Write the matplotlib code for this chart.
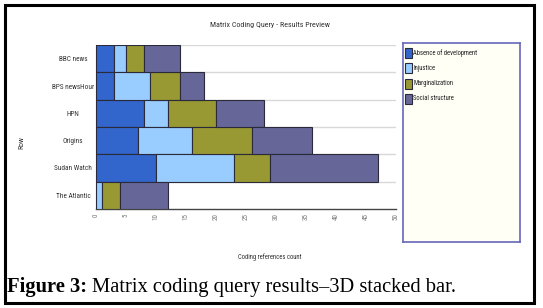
import numpy as np
import matplotlib
matplotlib.use('Agg')
import matplotlib.pyplot as plt
from matplotlib.patches import Rectangle
from matplotlib import font_manager

# Data
rows = ['BBC news', 'BPS newsHour', 'HPN', 'Origins', 'Sudan Watch', 'The Atlantic']
series = ['Absence of development', 'Injustice', 'Marginalization', 'Social structure']
absence = [3, 3, 8, 7, 10, 0]
injustice = [2, 6, 4, 9, 13, 1]
marginalization = [3, 5, 8, 10, 6, 3]
social = [6, 4, 8, 10, 18, 8]
colors = ['#3366CC', '#99CCFF', '#999933', '#666699']
xticks = list(range(0, 55, 5))

W, H = 543, 308

# pick a narrow sans if one is installed
names = {f.name for f in font_manager.fontManager.ttflist}
narrow = 'DejaVu Sans'
for cand in ['Liberation Sans Narrow', 'Roboto Condensed', 'Open Sans Condensed']:
    if cand in names:
        narrow = cand
        break
NF = dict(family=narrow, stretch='condensed')

fig = plt.figure(figsize=(W / 100, H / 100), dpi=100)
fig.patch.set_facecolor('white')


def px_axes(x0, y0, x1, y1):
    # axes from pixel box (top-left origin)
    return fig.add_axes([x0 / W, 1 - y1 / H, (x1 - x0) / W, (y1 - y0) / H])


# outer frame
fig.add_artist(Rectangle((5 / W, 1 - 303 / H), 529 / W, 298 / H, transform=fig.transFigure,
                         fill=False, edgecolor='black', linewidth=2.2))

ax = px_axes(96, 45, 396, 209)
y = np.arange(len(rows))
left = np.zeros(len(rows))
for vals, c in zip([absence, injustice, marginalization, social], colors):
    vals = np.array(vals, dtype=float)
    ax.barh(y, vals, left=left, height=1.0, color=c, edgecolor='#2a2a3a',
            linewidth=0.8, zorder=3)
    left += vals

ax.set_xlim(0, 50)
ax.set_ylim(len(rows) - 0.5, -0.5)
for b in np.arange(-0.5, len(rows) - 0.5, 1):
    ax.axhline(b, color='#d8d8d8', linewidth=1.0, zorder=1)

for s in ['top', 'right']:
    ax.spines[s].set_visible(False)
ax.spines['left'].set_color('#444444')
ax.spines['bottom'].set_color('#444444')
ax.spines['bottom'].set_linewidth(1.0)

ax.set_yticks(y)
ax.set_yticklabels(rows, ha='center', fontsize=5.2, color='#333333', **NF)
ax.tick_params(axis='y', length=0, pad=16.5)
ax.set_xticks(xticks)
ax.set_xticklabels([str(t) for t in xticks], rotation=90, fontsize=5,
                   color='#777777', **NF)
ax.tick_params(axis='x', length=0, pad=3)

fig.text(270 / W, 1 - 25 / H, 'Matrix Coding Query - Results Preview', ha='center',
         va='center', fontsize=5.8, color='#333333', **NF)
fig.text(270 / W, 1 - 257 / H, 'Coding references count', ha='center', va='center',
         fontsize=4.8, color='#333333', **NF)
fig.text(21 / W, 1 - 143 / H, 'Row', ha='center', va='center', rotation=90,
         fontsize=5.5, color='#333333', **NF)

# legend box
lg = px_axes(403, 43, 520, 242)
lg.set_xlim(0, 117)
lg.set_ylim(199, 0)
lg.set_facecolor('#FFFFF5')
lg.set_xticks([])
lg.set_yticks([])
for s in lg.spines.values():
    s.set_color('#6666BB')
    s.set_linewidth(1.2)
for i, (name, c) in enumerate(zip(series, colors)):
    top = 5 + i * 15.3
    lg.add_patch(Rectangle((2, top), 7, 10, facecolor=c, edgecolor='#2a2a3a', linewidth=0.8))
    lg.text(10, top + 5, name, va='center', ha='left', fontsize=4.8,
            color='#222222', **NF)

# caption
serif = ['Liberation Serif', 'DejaVu Serif']
t1 = fig.text(7 / W, 1 - 292 / H, 'Figure 3:', ha='left', va='baseline',
              family=serif, fontsize=14.8, fontweight='bold', color='black')
fig.canvas.draw()
bb = t1.get_window_extent()
fig.text(bb.x1 / W + 5 / W, 1 - 292 / H, 'Matrix coding query results\u20133D stacked bar.',
         ha='left', va='baseline', family=serif, fontsize=14.8, color='black')

fig.savefig('out.png', dpi=100)
